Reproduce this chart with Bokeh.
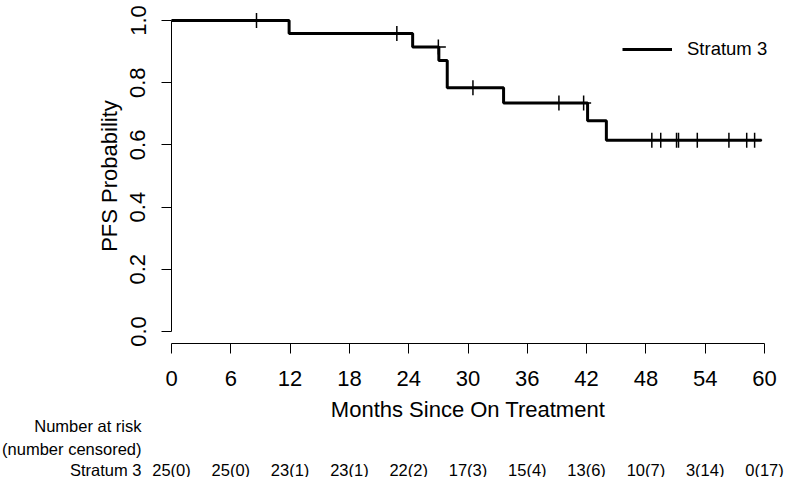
from bokeh.plotting import figure
from bokeh.models import Range1d, FixedTicker, Legend, LegendItem
from bokeh.core.properties import value
from bokeh.embed import file_html
from bokeh.resources import INLINE

# ---- data ----
step_times = [0, 11.9, 24.4, 27.05, 27.9, 33.6, 42.1, 44.0, 59.7]
step_prob = [1.0, 0.958, 0.915, 0.871, 0.784, 0.735, 0.678, 0.615, 0.615]

censor_times = [8.6, 22.8, 27.0, 30.5, 39.2, 41.7, 48.6, 49.5, 51.1, 51.3, 53.2, 56.4, 58.2, 59.0]
censor_prob = [1.0, 0.958, 0.915, 0.784, 0.735, 0.735, 0.615, 0.615, 0.615, 0.615, 0.615, 0.615, 0.615, 0.615]

x_ticks = [0, 6, 12, 18, 24, 30, 36, 42, 48, 54, 60]
y_ticks = [0.0, 0.2, 0.4, 0.6, 0.8, 1.0]
y_tick_labels = ["0.0", "0.2", "0.4", "0.6", "0.8", "1.0"]

risk_times = [0, 6, 12, 18, 24, 30, 36, 42, 48, 54, 60]
risk_labels = ["25(0)", "25(0)", "23(1)", "23(1)", "22(2)", "17(3)", "15(4)",
               "13(6)", "10(7)", "3(14)", "0(17)"]

series_name = "Stratum 3"
x_title = "Months Since On Treatment"
y_title = "PFS Probability"
risk_header = ["Number at risk", "(number censored)", "Stratum 3"]

# ---- layout (pixels) ----
FONT = "Liberation Sans"
W, H = 784, 477
X0, X1 = 0, 60
PX_X0, PX_X1 = 171, 764          # screen x of month 0 and month 60
PX_Y1, PX_Y0 = 20, 331           # screen y of prob 1.0 and prob 0.0
HEADER_RIGHT = 141                # right edge of risk-table row headers
ROW_PX = [425, 448, 469]          # screen y of the three risk-table rows

sx = (PX_X1 - PX_X0) / (X1 - X0)
sy = (PX_Y0 - PX_Y1) / 1.0
def dx(px):
    return X0 + (px - PX_X0) / sx
def dy(py):
    return (PX_Y0 - py) / sy

p = figure(width=W, height=H,
           x_range=Range1d(dx(0), dx(W)), y_range=Range1d(dy(H), dy(0)),
           output_backend="svg", toolbar_location=None,
           min_border=0, min_border_left=0, min_border_right=0,
           min_border_top=0, min_border_bottom=0)
p.outline_line_color = None
p.grid.visible = False

# x axis (drawn at y = -0.04, the bottom of the R plot region)
xa = p.xaxis[0]
xa.fixed_location = -0.04
xa.ticker = FixedTicker(ticks=x_ticks)
xa.bounds = (X0, X1)
xa.major_tick_out = 10
xa.major_tick_in = 0
xa.minor_tick_out = 0
xa.minor_tick_in = 0
xa.axis_line_color = "black"
xa.major_tick_line_color = "black"
xa.major_label_text_font = FONT
xa.major_label_text_font_size = "22px"
xa.major_label_text_color = "black"
xa.major_label_standoff = 17
xa.axis_label = x_title
xa.axis_label_text_font = FONT
xa.axis_label_text_font_size = "22px"
xa.axis_label_text_font_style = "normal"
xa.axis_label_text_color = "black"
xa.axis_label_standoff = 8

# y axis (drawn at x = 0)
ya = p.yaxis[0]
ya.fixed_location = 0
ya.ticker = FixedTicker(ticks=y_ticks)
ya.major_label_overrides = {t: l for t, l in zip(y_ticks, y_tick_labels)}
ya.bounds = (0, 1)
ya.major_tick_out = 10
ya.major_tick_in = 0
ya.minor_tick_out = 0
ya.minor_tick_in = 0
ya.axis_line_color = "black"
ya.major_tick_line_color = "black"
ya.major_label_orientation = "vertical"
ya.major_label_text_font = FONT
ya.major_label_text_font_size = "22px"
ya.major_label_text_color = "black"
ya.major_label_standoff = 16
ya.axis_label = y_title
ya.axis_label_text_font = FONT
ya.axis_label_text_font_size = "22px"
ya.axis_label_text_font_style = "normal"
ya.axis_label_text_color = "black"
ya.axis_label_standoff = 6

# KM curve and censor marks
r = p.step(step_times, step_prob, mode="after", line_color="black", line_width=3)
p.scatter(censor_times, censor_prob, marker="cross", size=15,
          line_color="black", line_width=1.5)

legend = Legend(items=[LegendItem(label=series_name, renderers=[r])],
                location=(622, H - 60), orientation="vertical",
                glyph_width=50, glyph_height=20, label_height=20,
                label_standoff=15, padding=0, margin=0, spacing=0,
                border_line_alpha=0, background_fill_alpha=0,
                label_text_font=FONT, label_text_font_size="18.5px",
                label_text_color="black")
p.add_layout(legend)

# number-at-risk table
p.text(x=[dx(HEADER_RIGHT)] * 3, y=[dy(v) for v in ROW_PX], text=risk_header,
       text_align="right", text_baseline="middle",
       text_font=value(FONT), text_font_size="16.5px", text_color="black")
p.text(x=risk_times, y=[dy(ROW_PX[2])] * len(risk_times), text=risk_labels,
       text_align="center", text_baseline="middle",
       text_font=value(FONT), text_font_size="16.5px", text_color="black")

open("out.html", "w").write(file_html(p, INLINE))
